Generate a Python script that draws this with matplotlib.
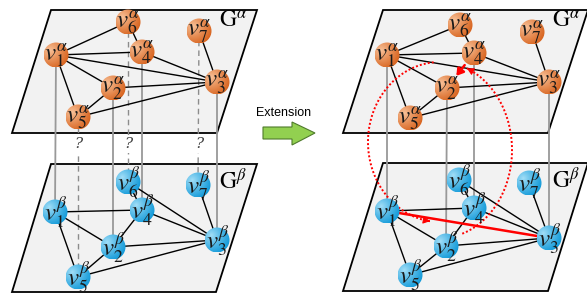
import numpy as np
import matplotlib
matplotlib.use('Agg')
import matplotlib.pyplot as plt
from matplotlib.patches import Polygon, Circle
from matplotlib.patches import FancyArrowPatch

plt.rcParams['mathtext.fontset'] = 'stix'

# ---------------- data ----------------
node_ids = [1, 2, 3, 4, 5, 6, 7]
la_x = [56, 113, 217, 142, 78, 128, 199]
la_y = [55, 88, 82, 52, 117, 22, 31]
lb_x = [55, 113, 217, 142, 78, 128, 198]
lb_y = [212, 247, 240, 210, 277, 182, 185]
ra_x = [387, 447, 549, 474, 410, 460, 532]
ra_y = [55, 88, 82, 53, 118, 25, 32]
rb_x = [387, 446, 549, 474, 410, 459, 529]
rb_y = [211, 246, 238, 208, 275, 180, 183]

alpha_edges = [(6, 1), (6, 4), (1, 4), (1, 3), (1, 2), (1, 5), (4, 3), (2, 3), (2, 5), (5, 3), (7, 3)]
beta_edges = [(1, 4), (1, 2), (1, 5), (6, 4), (6, 3), (4, 3), (4, 2), (2, 3), (2, 5), (5, 3), (7, 3)]
anchored = [1, 2, 4, 3]
unknown = [5, 6, 7]
red_alpha = (4, 2)
red_beta = (1, 3)

plane_la = [(51, 10), (257, 10), (217, 133), (12, 133)]
plane_lb = [(51, 164), (257, 164), (216, 292), (12, 292)]
plane_ra = [(383, 10), (588, 10), (548, 133), (343, 133)]
plane_rb = [(383, 163), (588, 163), (548, 291), (343, 291)]

R = 12.5
ORANGE = ('#f9c49c', '#d8641f')
BLUE = ('#a6e0f8', '#129ad9')

fig = plt.figure(figsize=(5.87, 2.95), dpi=100)
ax = fig.add_axes([0, 0, 1, 1])
ax.set_xlim(0, 587)
ax.set_ylim(295, 0)
ax.axis('off')

for pl in [plane_la, plane_lb, plane_ra, plane_rb]:
    ax.add_patch(Polygon(pl, closed=True, facecolor='#f2f2f2', edgecolor='black', lw=1.3, zorder=1))


def grad_img(light, dark, n=64):
    l = np.array(matplotlib.colors.to_rgb(light))
    d = np.array(matplotlib.colors.to_rgb(dark))
    yy, xx = np.mgrid[-1:1:n * 1j, -1:1:n * 1j]
    dist = np.sqrt((xx + 0.5) ** 2 + (yy + 0.35) ** 2)
    t = np.clip(dist / 1.6, 0, 1) ** 0.85
    img = l[None, None, :] * (1 - t[..., None]) + d[None, None, :] * t[..., None]
    return img


def draw_graph(xs, ys, edges, colors, sup):
    pos = {k: (x, y) for k, x, y in zip(node_ids, xs, ys)}
    for a, b in edges:
        ax.plot([pos[a][0], pos[b][0]], [pos[a][1], pos[b][1]], color='black', lw=1.0, zorder=3)
    img = grad_img(*colors)
    for k in node_ids:
        x, y = pos[k]
        c = Circle((x, y), R, facecolor='none', edgecolor='none', zorder=5)
        ax.add_patch(c)
        im = ax.imshow(img, extent=(x - R, x + R, y + R, y - R), origin='upper', zorder=5,
                       interpolation='bilinear')
        im.set_clip_path(c)
        ax.text(x + 0.5, y + 0.5, r'$v_{%d}^{\%s}$' % (k, sup), ha='center', va='center',
                fontsize=18, color='#1a1a1a', zorder=6)
    return pos


# vertical links
def vlinks(pa, pb, ids, dashed=False):
    for k in ids:
        xa, ya = pa[k]
        xb, yb = pb[k]
        if dashed:
            ax.plot([xa, xb], [ya, yb], color='#8c8c8c', lw=1.0, ls=(0, (4, 3)), zorder=2.5)
            ax.text(xa, 144, '?', ha='center', va='center', fontsize=11, family='DejaVu Serif',
                    style='italic', color='#444444', zorder=4,
                    bbox=dict(facecolor='white', edgecolor='none', pad=1.5))
        else:
            ax.plot([xa, xb], [ya, yb], color='#999999', lw=1.3, zorder=2.5)


pla = draw_graph(la_x, la_y, alpha_edges, ORANGE, 'alpha')
plb = draw_graph(lb_x, lb_y, beta_edges, BLUE, 'beta')
pra = draw_graph(ra_x, ra_y, alpha_edges, ORANGE, 'alpha')
prb = draw_graph(rb_x, rb_y, beta_edges, BLUE, 'beta')

vlinks(pla, plb, anchored)
vlinks(pla, plb, unknown, dashed=True)
vlinks(pra, prb, anchored)

# red extension edges
a, b = red_alpha
ax.add_patch(FancyArrowPatch(pra[a], pra[b], arrowstyle='-|>,head_length=4,head_width=2.5',
                             color='red', lw=1.8, shrinkA=11, shrinkB=11, zorder=4))
a, b = red_beta
ax.plot([prb[a][0], prb[b][0]], [prb[a][1], prb[b][1]], color='red', lw=1.8, zorder=4)

# dotted loop
def arc_pts(cx, cy, rx, ry, t0, t1, n=120):
    t = np.radians(np.linspace(t0, t1, n))
    return cx + rx * np.cos(t), cy - ry * np.sin(t)

for (cx, cy, rx, ry, t0, t1) in [(440, 142, 72, 80, 95, 262), (440, 150, 72, 88, -72, 68)]:
    xs, ys = arc_pts(cx, cy, rx, ry, t0, t1)
    ax.plot(xs, ys, color='red', lw=1.4, ls=(0, (1.0, 1.1)), zorder=4.5)
    ax.add_patch(FancyArrowPatch((xs[-3], ys[-3]), (xs[-1], ys[-1]),
                                 arrowstyle='-|>,head_length=4,head_width=2.2', color='red',
                                 lw=0.8, zorder=4.5))

# plane labels
for (x, y, s) in [(233, 21, 'alpha'), (566, 21, 'alpha'), (233, 181, 'beta'), (566, 180, 'beta')]:
    ax.text(x, y, r'$\mathrm{G}^{\%s}$' % s, ha='center', va='center', fontsize=17, zorder=6)

# extension arrow
ax.add_patch(Polygon([(263, 127), (292, 127), (292, 122), (315, 133), (292, 145), (292, 139), (263, 139)],
                     closed=True, facecolor='#92d050', edgecolor='#4f7a2c', lw=0.8, zorder=3))
ax.text(284, 113, 'Extension', ha='center', va='center', fontsize=9, family='Liberation Sans')

fig.savefig('out.png', dpi=100)
